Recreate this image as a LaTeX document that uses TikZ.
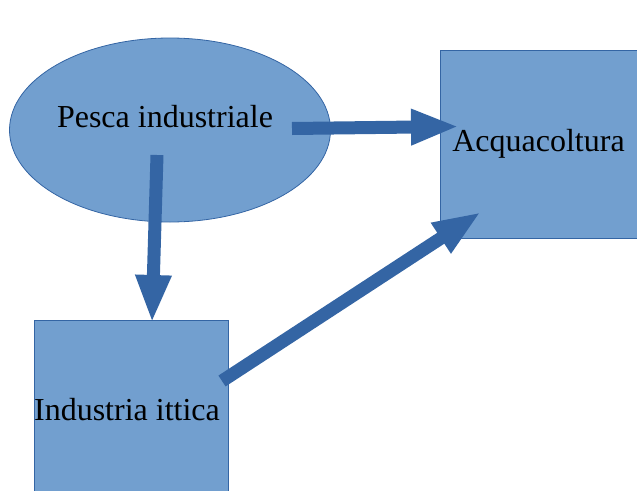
\documentclass[tikz,border=0pt]{standalone}
\usepackage{fontspec}
\setmainfont{Liberation Serif}
\usetikzlibrary{shapes.geometric,arrows.meta}
\definecolor{shapefill}{HTML}{729FCF}
\definecolor{shapeline}{HTML}{3465A4}
\tikzset{
  labeltext/.style={font=\fontsize{32}{38}\selectfont},
  shapebox/.style={draw=shapeline,fill=shapefill,line width=0.8pt,inner sep=0pt,labeltext},
  blockarrow/.style={draw=shapeline,line width=13pt,-{Triangle[length=48pt,width=33pt]}},
}
\begin{document}
\begin{tikzpicture}[x=1pt,y=-1pt]
\useasboundingbox (0,0) rectangle (637,490);
\clip (0,0) rectangle (637,490);
\node[shapebox,ellipse,minimum width=321pt,minimum height=184pt] (pesca) at (170,130) {};
\node[labeltext] (pescatxt) at (165,117) {Pesca industriale};
\node[shapebox,minimum width=197pt,minimum height=188pt] (acqua) at (538.5,144) {Acquacoltura};
\node[shapebox,minimum width=194pt,minimum height=188pt] (ittica) at (131,414) {};
\node[labeltext] (itticatxt) at (127,410) {Industria ittica};
\coordinate (a1s) at (292,128.5);
\coordinate (a1e) at (459,126.5);
\coordinate (a2s) at (157,155);
\coordinate (a2e) at (152,323);
\coordinate (a3s) at (222,381);
\coordinate (a3e) at (481,212);
\draw[blockarrow] (a1s) -- (a1e);
\draw[blockarrow] (a2s) -- (a2e);
\draw[blockarrow] (a3s) -- (a3e);
\end{tikzpicture}
\end{document}
